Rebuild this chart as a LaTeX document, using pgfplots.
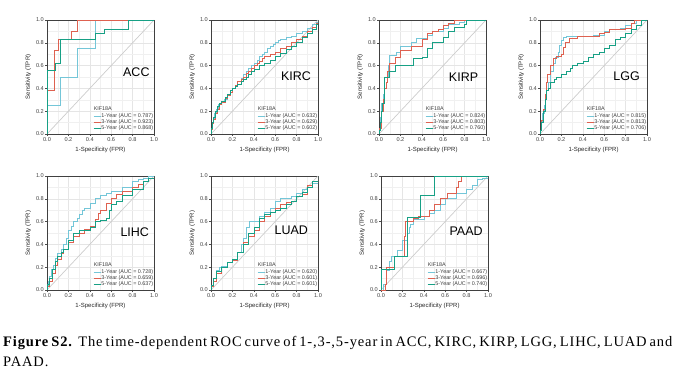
\documentclass[border=0pt]{standalone}
\usepackage{pgfplots}
\pgfplotsset{compat=1.18}
\usepackage{fontspec}
\setmainfont{Liberation Sans}
\newfontfamily\capfont[LetterSpace=6]{Liberation Serif}
\definecolor{cA}{HTML}{74C6D8}
\definecolor{cB}{HTML}{DE6150}
\definecolor{cC}{HTML}{17A085}
\pgfplotsset{
 roc/.style={
  scale only axis, width=107pt, height=114pt,
  xmin=0,xmax=1,ymin=0,ymax=1,
  xtick={0,0.2,0.4,0.6,0.8,1}, ytick={0,0.2,0.4,0.6,0.8,1},
  minor xtick={0.1,0.3,0.5,0.7,0.9}, minor ytick={0.1,0.3,0.5,0.7,0.9},
  xticklabels={0.0,0.2,0.4,0.6,0.8,1.0}, yticklabels={0.0,0.2,0.4,0.6,0.8,1.0},
  tick pos=left, tick align=outside,
  major tick length=2pt, minor tick length=0pt,
  every tick/.style={black!70, line width=0.4pt},
  grid=both,
  major grid style={black!10, line width=0.4pt},
  minor grid style={black!6, line width=0.25pt},
  axis line style={black!75, line width=0.5pt},
  ticklabel style={font=\fontsize{5.6}{6.5}\selectfont, text=black!75},
  xticklabel style={inner sep=1pt},
  yticklabel style={inner sep=1pt},
  xlabel={1-Specificity (FPR)}, ylabel={Sensitivity (TPR)},
  label style={font=\fontsize{6}{7}\selectfont, text=black!85},
  xlabel style={at={(axis description cs:0.5,-0.14)}, anchor=center},
  ylabel style={at={(axis description cs:-0.175,0.5)}, anchor=center},
  legend style={at={(rel axis cs:0.43,0.02)}, anchor=south west, draw=none, fill=none,
    font=\fontsize{5.4}{5.8}\selectfont, text=black!75, row sep=-0.5pt, inner sep=0pt,
    nodes={inner sep=0.6pt}},
  legend cell align=left,
  legend image code/.code={\draw[#1] (0pt,0pt) -- (7pt,0pt);},
 },
 diag/.style={forget plot, color=black!20, line width=0.7pt},
 y1/.style={cA, line width=0.6pt, const plot},
 y3/.style={cB, line width=0.6pt, const plot},
 y5/.style={cC, line width=0.6pt, const plot},
}
\newcommand{\paneltitle}[3]{\node[font=\fontsize{12.5}{14}\selectfont] at (rel axis cs:#1,#2) {#3};
  \node[anchor=west, font=\fontsize{5.4}{6}\selectfont, text=black!75, inner sep=0.6pt] at (rel axis cs:0.43,0.22) {KIF18A};}
\begin{document}
\begin{tikzpicture}
\useasboundingbox (0,0) rectangle (676pt,-379pt);
% ACC
\begin{axis}[roc, at={(47pt,-134pt)}, anchor=south west]
\addplot[diag] coordinates {(0,0)(1,1)};
\addplot[y1] coordinates {(0,0)(0,0.25)(0.12,0.5)(0.28,0.75)(0.45,1)(1,1)};
\addplot[y3] coordinates {(0,0)(0,0.38)(0.07,0.73)(0.11,0.83)(0.23,0.9)(0.28,1)(1,1)};
\addplot[y5] coordinates {(0,0)(0,0.56)(0.08,0.62)(0.12,0.83)(0.45,0.88)(0.54,0.92)(0.76,1)(1,1)};
\legend{1-Year (AUC = 0.787),3-Year (AUC = 0.923),5-Year (AUC = 0.868)}
\paneltitle{0.835}{0.54}{ACC}
\end{axis}
% KIRC
\begin{axis}[roc, at={(211pt,-134pt)}, anchor=south west]
\addplot[diag] coordinates {(0,0)(1,1)};
\addplot[y1] coordinates {(0,0)(0,0.05)(0.01,0.1)(0.02,0.14)(0.03,0.18)(0.05,0.22)(0.07,0.26)(0.1,0.28)(0.12,0.3)(0.15,0.34)(0.18,0.37)(0.2,0.4)(0.23,0.43)(0.25,0.46)(0.28,0.49)(0.3,0.52)(0.33,0.55)(0.35,0.58)(0.38,0.6)(0.4,0.62)(0.43,0.65)(0.45,0.68)(0.48,0.7)(0.5,0.72)(0.53,0.75)(0.55,0.77)(0.58,0.79)(0.6,0.8)(0.63,0.82)(0.65,0.83)(0.7,0.85)(0.75,0.86)(0.8,0.88)(0.85,0.9)(0.9,0.93)(0.95,0.96)(0.98,0.98)(1,1)};
\addplot[y3] coordinates {(0,0)(0,0.04)(0.01,0.09)(0.02,0.13)(0.04,0.18)(0.06,0.22)(0.08,0.26)(0.1,0.28)(0.13,0.31)(0.15,0.34)(0.18,0.37)(0.2,0.4)(0.23,0.43)(0.25,0.46)(0.28,0.48)(0.3,0.5)(0.33,0.53)(0.35,0.55)(0.38,0.58)(0.4,0.6)(0.43,0.62)(0.45,0.64)(0.48,0.66)(0.5,0.68)(0.55,0.7)(0.6,0.72)(0.65,0.75)(0.7,0.77)(0.75,0.8)(0.8,0.83)(0.85,0.86)(0.9,0.9)(0.95,0.94)(0.98,0.97)(1,1)};
\addplot[y5] coordinates {(0,0)(0,0.05)(0.01,0.1)(0.02,0.15)(0.04,0.2)(0.06,0.24)(0.08,0.27)(0.1,0.29)(0.13,0.32)(0.15,0.35)(0.18,0.38)(0.2,0.4)(0.23,0.42)(0.25,0.44)(0.28,0.46)(0.3,0.48)(0.33,0.5)(0.35,0.52)(0.38,0.55)(0.4,0.57)(0.45,0.6)(0.5,0.62)(0.55,0.65)(0.6,0.68)(0.65,0.71)(0.7,0.74)(0.75,0.77)(0.8,0.8)(0.85,0.85)(0.9,0.88)(0.95,0.92)(0.98,0.96)(1,1)};
\legend{1-Year (AUC = 0.632),3-Year (AUC = 0.629),5-Year (AUC = 0.602)}
\paneltitle{0.795}{0.51}{KIRC}
\end{axis}
% KIRP
\begin{axis}[roc, at={(379pt,-134pt)}, anchor=south west]
\addplot[diag] coordinates {(0,0)(1,1)};
\addplot[y1] coordinates {(0,0)(0,0.04)(0.01,0.15)(0.02,0.27)(0.04,0.35)(0.05,0.5)(0.08,0.5)(0.09,0.6)(0.1,0.69)(0.15,0.69)(0.16,0.72)(0.2,0.77)(0.3,0.8)(0.35,0.84)(0.45,0.87)(0.5,0.9)(0.6,0.93)(0.65,0.96)(0.75,0.98)(0.8,1)(1,1)};
\addplot[y3] coordinates {(0,0)(0,0.05)(0.02,0.2)(0.04,0.3)(0.05,0.4)(0.07,0.45)(0.08,0.55)(0.1,0.62)(0.15,0.67)(0.2,0.73)(0.3,0.77)(0.4,0.83)(0.45,0.88)(0.5,0.9)(0.55,0.92)(0.6,0.95)(0.65,0.97)(0.7,1)(1,1)};
\addplot[y5] coordinates {(0,0)(0,0.03)(0.01,0.1)(0.02,0.2)(0.03,0.27)(0.05,0.5)(0.1,0.55)(0.15,0.6)(0.3,0.6)(0.32,0.66)(0.4,0.67)(0.45,0.75)(0.5,0.8)(0.6,0.85)(0.65,0.9)(0.7,0.94)(0.8,0.96)(0.82,1)(1,1)};
\legend{1-Year (AUC = 0.824),3-Year (AUC = 0.803),5-Year (AUC = 0.760)}
\paneltitle{0.79}{0.50}{KIRP}
\end{axis}
% LGG
\begin{axis}[roc, at={(540pt,-134pt)}, anchor=south west]
\addplot[diag] coordinates {(0,0)(1,1)};
\addplot[y1] coordinates {(0,0)(0,0.03)(0.01,0.1)(0.02,0.18)(0.04,0.25)(0.05,0.3)(0.06,0.38)(0.08,0.45)(0.1,0.55)(0.12,0.62)(0.14,0.67)(0.17,0.72)(0.18,0.78)(0.2,0.82)(0.22,0.85)(0.25,0.86)(0.5,0.87)(0.6,0.9)(0.65,0.92)(0.75,0.93)(0.8,0.95)(0.85,0.97)(0.9,1)(1,1)};
\addplot[y3] coordinates {(0,0)(0,0.03)(0.01,0.12)(0.03,0.22)(0.05,0.35)(0.06,0.45)(0.07,0.52)(0.1,0.6)(0.12,0.66)(0.15,0.68)(0.2,0.7)(0.22,0.76)(0.24,0.8)(0.27,0.84)(0.35,0.86)(0.5,0.86)(0.55,0.88)(0.6,0.89)(0.65,0.92)(0.8,0.93)(0.85,0.97)(0.88,1)(1,1)};
\addplot[y5] coordinates {(0,0)(0,0.03)(0.01,0.1)(0.03,0.2)(0.05,0.3)(0.06,0.38)(0.08,0.4)(0.1,0.45)(0.13,0.48)(0.15,0.5)(0.2,0.52)(0.25,0.55)(0.28,0.58)(0.3,0.6)(0.35,0.62)(0.4,0.64)(0.45,0.67)(0.5,0.7)(0.55,0.72)(0.6,0.75)(0.65,0.78)(0.7,0.83)(0.75,0.85)(0.8,0.88)(0.85,0.92)(0.9,0.95)(0.95,1)(1,1)};
\legend{1-Year (AUC = 0.815),3-Year (AUC = 0.813),5-Year (AUC = 0.706)}
\paneltitle{0.81}{0.505}{LGG}
\end{axis}
% LIHC
\begin{axis}[roc, at={(47pt,-290pt)}, anchor=south west]
\addplot[diag] coordinates {(0,0)(1,1)};
\addplot[y1] coordinates {(0,0)(0,0.04)(0.01,0.08)(0.02,0.12)(0.04,0.18)(0.06,0.22)(0.08,0.28)(0.1,0.32)(0.13,0.36)(0.15,0.4)(0.18,0.45)(0.2,0.52)(0.23,0.56)(0.25,0.6)(0.28,0.63)(0.3,0.66)(0.33,0.7)(0.35,0.72)(0.4,0.76)(0.45,0.8)(0.5,0.83)(0.55,0.85)(0.6,0.87)(0.7,0.9)(0.8,0.95)(0.85,0.97)(0.9,0.98)(0.95,1)(1,1)};
\addplot[y3] coordinates {(0,0)(0,0.03)(0.02,0.08)(0.05,0.15)(0.08,0.22)(0.1,0.27)(0.13,0.32)(0.15,0.36)(0.2,0.42)(0.25,0.47)(0.3,0.5)(0.35,0.53)(0.4,0.56)(0.45,0.62)(0.48,0.67)(0.5,0.7)(0.55,0.76)(0.6,0.8)(0.65,0.84)(0.7,0.87)(0.8,0.9)(0.85,0.93)(0.9,0.95)(0.95,0.98)(1,1)};
\addplot[y5] coordinates {(0,0)(0,0.05)(0.02,0.1)(0.05,0.18)(0.08,0.25)(0.1,0.3)(0.13,0.33)(0.15,0.36)(0.2,0.44)(0.25,0.5)(0.3,0.52)(0.4,0.55)(0.45,0.6)(0.5,0.61)(0.55,0.63)(0.58,0.7)(0.6,0.75)(0.65,0.78)(0.7,0.83)(0.8,0.88)(0.9,0.95)(0.95,0.98)(1,1)};
\legend{1-Year (AUC = 0.728),3-Year (AUC = 0.659),5-Year (AUC = 0.637)}
\paneltitle{0.82}{0.51}{LIHC}
\end{axis}
% LUAD
\begin{axis}[roc, at={(211pt,-290pt)}, anchor=south west]
\addplot[diag] coordinates {(0,0)(1,1)};
\addplot[y1] coordinates {(0,0)(0,0.03)(0.02,0.1)(0.05,0.17)(0.08,0.2)(0.1,0.21)(0.15,0.24)(0.2,0.27)(0.25,0.33)(0.28,0.4)(0.3,0.45)(0.33,0.55)(0.36,0.6)(0.4,0.6)(0.45,0.65)(0.5,0.68)(0.55,0.72)(0.6,0.78)(0.65,0.8)(0.7,0.8)(0.75,0.82)(0.8,0.85)(0.85,0.88)(0.9,0.9)(0.95,0.94)(1,1)};
\addplot[y3] coordinates {(0,0)(0,0.03)(0.02,0.08)(0.05,0.15)(0.1,0.2)(0.15,0.24)(0.2,0.26)(0.25,0.33)(0.3,0.42)(0.35,0.47)(0.4,0.52)(0.45,0.6)(0.5,0.65)(0.55,0.68)(0.6,0.72)(0.65,0.75)(0.7,0.77)(0.75,0.78)(0.8,0.82)(0.85,0.84)(0.9,0.92)(0.95,0.95)(1,1)};
\addplot[y5] coordinates {(0,0)(0,0.04)(0.02,0.1)(0.05,0.16)(0.1,0.2)(0.15,0.24)(0.2,0.27)(0.25,0.33)(0.3,0.4)(0.35,0.5)(0.4,0.55)(0.45,0.63)(0.5,0.66)(0.55,0.68)(0.6,0.7)(0.65,0.72)(0.7,0.75)(0.75,0.78)(0.8,0.82)(0.85,0.86)(0.9,0.9)(0.95,0.95)(1,1)};
\legend{1-Year (AUC = 0.620),3-Year (AUC = 0.601),5-Year (AUC = 0.601)}
\paneltitle{0.75}{0.52}{LUAD}
\end{axis}
% PAAD
\begin{axis}[roc, at={(381pt,-290pt)}, anchor=south west]
\addplot[diag] coordinates {(0,0)(1,1)};
\addplot[y1] coordinates {(0,0)(0.02,0.05)(0.05,0.17)(0.08,0.25)(0.1,0.3)(0.15,0.35)(0.2,0.44)(0.25,0.5)(0.26,0.55)(0.27,0.58)(0.3,0.62)(0.4,0.65)(0.45,0.67)(0.5,0.7)(0.55,0.75)(0.6,0.8)(0.7,0.85)(0.8,0.88)(0.85,0.92)(0.9,0.97)(0.95,0.98)(1,1)};
\addplot[y3] coordinates {(0,0)(0.04,0.05)(0.05,0.2)(0.12,0.3)(0.22,0.47)(0.23,0.6)(0.3,0.63)(0.35,0.65)(0.45,0.7)(0.5,0.75)(0.55,0.8)(0.62,0.85)(0.7,0.9)(0.72,0.95)(0.75,1)(1,1)};
\addplot[y5] coordinates {(0,0)(0,0.18)(0.12,0.3)(0.25,0.64)(0.37,0.83)(0.5,1)(1,1)};
\legend{1-Year (AUC = 0.667),3-Year (AUC = 0.696),5-Year (AUC = 0.740)}
\paneltitle{0.795}{0.52}{PAAD}
\end{axis}
% caption
\node[anchor=base west, inner sep=0pt, font=\capfont\fontsize{14.5}{18}\selectfont] at (3pt,-346pt)
 {\makebox[667pt][s]{\textbf{Figure S2.} The time-dependent ROC curve of 1-,3-,5-year in ACC, KIRC, KIRP, LGG, LIHC, LUAD and}};
\node[anchor=base west, inner sep=0pt, font=\capfont\fontsize{14.5}{18}\selectfont] at (3pt,-366.5pt) {PAAD.};
\end{tikzpicture}
\end{document}
